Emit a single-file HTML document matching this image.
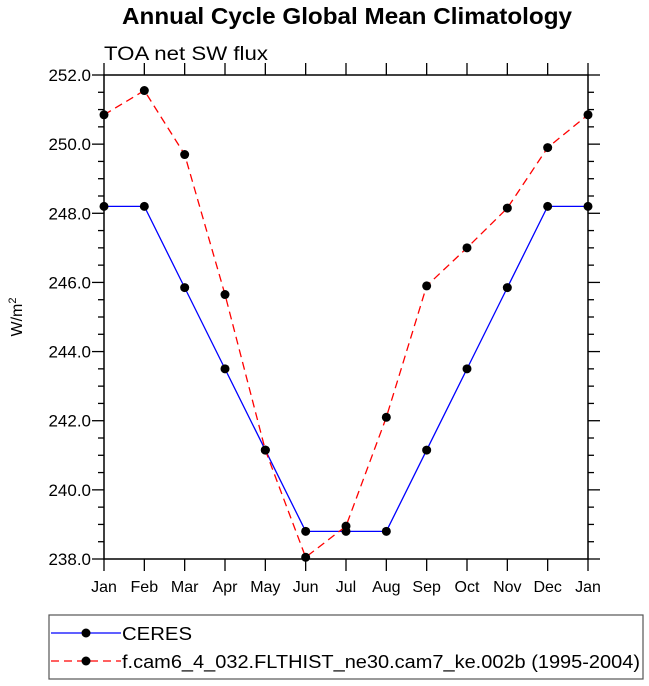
<!DOCTYPE html>
<html><head><meta charset="utf-8"><style>
body{margin:0;background:#fff;}
svg{display:block;font-family:"Liberation Sans",Arial,sans-serif;}
</style></head><body>
<svg id="chart" width="649" height="686">
<text x="347" y="24" text-anchor="middle" font-size="23" font-weight="bold" textLength="450" lengthAdjust="spacingAndGlyphs">Annual Cycle Global Mean Climatology</text>
<text x="104" y="60" font-size="19" textLength="164" lengthAdjust="spacingAndGlyphs">TOA net SW flux</text>
<text transform="translate(22,317) rotate(-90)" text-anchor="middle" font-size="16">W/m<tspan dy="-6" font-size="11">2</tspan></text>
<g id="axes"></g>
<g id="series"></g>
<g>
<rect x="49" y="615" width="594" height="64" fill="none" stroke="#555" stroke-width="1.2"/>
<g>
<line x1="51" y1="633" x2="121" y2="633" stroke="#0000ff" stroke-width="1.3"/>
<circle cx="86" cy="633" r="4.5" fill="#000"/>
<text x="122" y="640" font-size="18" textLength="70" lengthAdjust="spacingAndGlyphs">CERES</text></g>
<g>
<line x1="51" y1="661" x2="121" y2="661" stroke="#ff0000" stroke-width="1.3" stroke-dasharray="8,5"/>
<circle cx="86" cy="661" r="4.5" fill="#000"/>
<text x="122" y="668" font-size="18" textLength="518" lengthAdjust="spacingAndGlyphs">f.cam6_4_032.FLTHIST_ne30.cam7_ke.002b (1995-2004)</text></g>
</g>
</svg>
<script>
const months=["Jan","Feb","Mar","Apr","May","Jun","Jul","Aug","Sep","Oct","Nov","Dec","Jan"];
const ceres=[248.2,248.2,245.85,243.5,241.15,238.8,238.8,238.8,241.15,243.5,245.85,248.2,248.2];
const model=[250.85,251.55,249.7,245.65,241.15,238.05,238.95,242.1,245.9,247.0,248.15,249.9,250.85];
const yTicks=[238,240,242,244,246,248,250,252];
const yMin=238,yMax=252;
const L=104,R=588,T=75,B=559;
const NS="http://www.w3.org/2000/svg";
const X=i=>L+(R-L)*i/(months.length-1);
const Y=v=>B-(B-T)*(v-yMin)/(yMax-yMin);
function mk(tag,attrs,parent){const e=document.createElementNS(NS,tag);for(const k in attrs)e.setAttribute(k,attrs[k]);parent.appendChild(e);return e;}
const ax=document.getElementById('axes');
const frame=mk('rect',{x:L,y:T,width:R-L,height:B-T,fill:'none',stroke:'#000','stroke-width':1.5},ax);


months.forEach((m,i)=>{
  const x=X(i);
  mk('line',{x1:x,y1:B,x2:x,y2:B+12,stroke:'#000','stroke-width':1.3},ax);
  mk('line',{x1:x,y1:T,x2:x,y2:T-12,stroke:'#000','stroke-width':1.3},ax);
  const t=mk('text',{x:x,y:B+33,'text-anchor':'middle','font-size':16},ax);
  t.textContent=m;
  
  
});
for(let v=yMin;v<=yMax+1e-9;v+=0.5){
  const y=Y(v),maj=Math.abs(v-Math.round(v/2)*2)<1e-9,len=maj?12:6;
  mk('line',{x1:L,y1:y,x2:L-len,y2:y,stroke:'#000','stroke-width':1.3},ax);
  mk('line',{x1:R,y1:y,x2:R+len,y2:y,stroke:'#000','stroke-width':1.3},ax);
}
yTicks.forEach(v=>{
  const t=mk('text',{x:L-13,y:Y(v)+6,'text-anchor':'end','font-size':17},ax);
  t.textContent=v.toFixed(1);
  
  
});
const sg=document.getElementById('series');
function draw(vals,color,dash,name){
  const g=mk('g',{},sg);
  
  
  const p=mk('polyline',{points:vals.map((v,i)=>X(i)+','+Y(v)).join(' '),fill:'none',stroke:color,'stroke-width':1.3,'stroke-dasharray':dash},g);
  
  
  vals.forEach((v,i)=>{
    const c=mk('circle',{cx:X(i),cy:Y(v),r:4.5,fill:'#000'},g);
    
    
  });
}
draw(ceres,'#0000ff','none','ceres-series');
draw(model,'#ff0000','8,5','model-series');
</script>
</body></html>
